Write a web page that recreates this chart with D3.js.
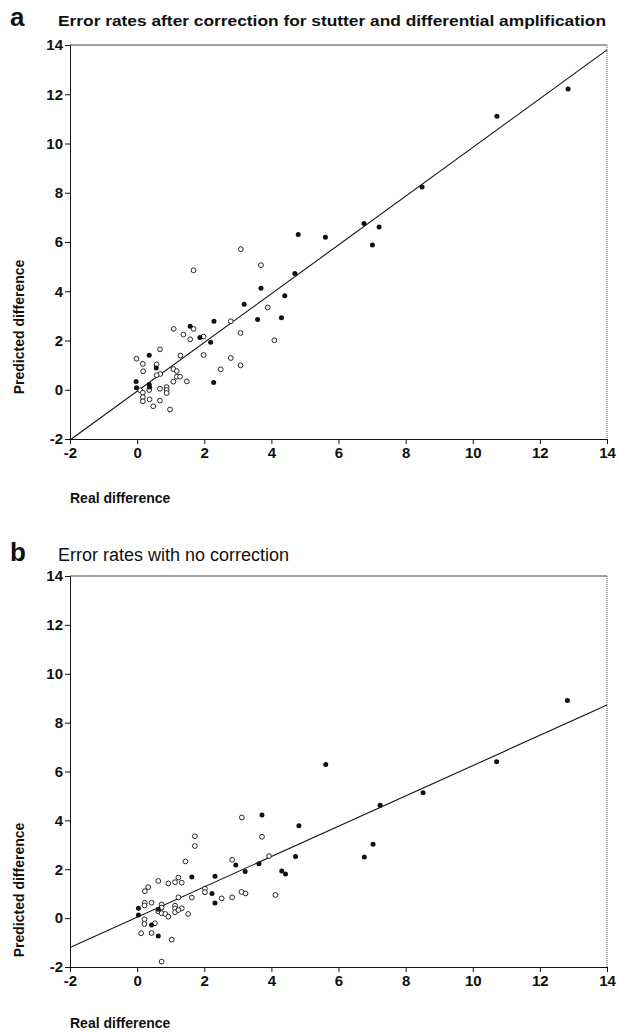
<!DOCTYPE html>
<html>
 <head>
  <meta charset="utf-8" />
  <title>Error rates</title>
  <script src="https://cdn.jsdelivr.net/npm/d3@7"></script>
  <style>
    body { margin: 0; background: #fff; }
    text { font-family: "Liberation Sans", Arial, sans-serif; fill: #111; }
  </style>
 </head>

 <body>
  <script>
    // axis ticks shared by both panels
    var xTicks = [-2, 0, 2, 4, 6, 8, 10, 12, 14],
        yTicks = [-2, 0, 2, 4, 6, 8, 10, 12, 14];

    // panel a : corrected
    var aOpen = [[3.09,5.71],[3.69,5.06],[1.68,4.85],[2.79,2.78],[1.09,2.47],[1.68,2.47],[1.38,2.24],
      [1.58,2.05],[1.98,2.16],[3.08,2.31],[0.68,1.64],[-0.02,1.26],[0.17,1.05],[0.58,1.03],[0.18,0.75],
      [1.29,1.39],[1.08,0.84],[1.18,0.76],[0.69,0.64],[0.58,0.59],[1.18,0.53],[1.28,0.53],[1.08,0.33],
      [1.48,0.34],[1.98,1.41],[2.79,1.29],[2.49,0.83],[3.08,0.99],[0.09,-0.02],[0.17,-0.12],[0.17,-0.30],
      [0.17,-0.47],[0.36,-0.01],[0.68,0.04],[0.88,0.11],[0.88,-0.01],[0.88,-0.13],[0.37,-0.39],
      [0.68,-0.44],[0.48,-0.67],[0.98,-0.80],[3.89,3.34],[4.09,2.01]];
    var aFilled = [[3.69,4.12],[3.19,3.47],[3.59,2.85],[2.29,2.78],[1.58,2.58],[1.87,2.12],[2.19,1.93],
      [0.36,1.40],[0.57,0.88],[2.28,0.29],[-0.03,0.33],[-0.02,0.08],[0.36,0.21],[0.37,0.11],[4.80,6.30],
      [5.61,6.19],[6.76,6.75],[7.21,6.61],[7.01,5.88],[4.70,4.72],[4.40,3.82],[4.30,2.92],[8.49,8.23],
      [10.72,11.11],[12.84,12.21]];
    var aFit = [-0.06, 0.99];   // intercept, slope

    // panel b : no correction
    var bOpen = [[3.12,4.12],[1.72,3.35],[1.72,2.95],[1.44,2.32],[2.83,2.39],[0.33,1.27],[0.63,1.52],
      [0.23,1.10],[0.93,1.42],[1.13,1.47],[1.23,1.66],[1.33,1.45],[2.02,1.21],[2.02,1.06],[3.11,1.07],
      [3.23,1.01],[2.52,0.81],[2.83,0.85],[1.23,0.85],[1.63,0.84],[0.23,0.63],[0.43,0.63],[0.22,0.52],
      [0.73,0.56],[0.73,0.43],[0.63,0.28],[0.73,0.20],[0.84,0.17],[0.93,0.06],[1.13,0.51],[1.13,0.40],
      [1.33,0.40],[1.13,0.24],[1.23,0.33],[1.52,0.17],[0.22,-0.05],[0.22,-0.24],[0.53,-0.21],
      [0.12,-0.62],[0.43,-0.61],[1.03,-0.88],[0.73,-1.78],[3.72,3.33],[3.93,2.54],[4.12,0.95]];
    var bFilled = [[2.94,2.17],[3.63,2.23],[3.22,1.91],[1.63,1.68],[2.32,1.71],[2.23,1.01],[2.32,0.62],
      [0.04,0.40],[0.63,0.36],[0.04,0.13],[0.43,-0.28],[0.63,-0.73],[5.62,6.29],[3.72,4.22],[4.82,3.78],
      [4.72,2.52],[4.31,1.93],[4.42,1.81],[7.24,4.62],[7.03,3.02],[6.77,2.50],[8.52,5.13],[10.71,6.40],
      [12.82,8.91]];
    var bFit = [0.04, 0.62];

    var W = 618, H = 1033;
    var svg = d3.select("body").append("svg")
        .attr("width", W).attr("height", H);

    function panel(opt) {
      var x = d3.scaleLinear().domain([-2, 14]).range([70, 607]),
          y = d3.scaleLinear().domain([-2, 14]).range([opt.bottom, opt.top]);
      var g = svg.append("g");

      // letter + title
      g.append("text").attr("x", 10).attr("y", opt.titleY)
        .style("font-size", "26px").style("font-weight", "bold").text(opt.letter);
      var t = g.append("text").attr("x", opt.titleX).attr("y", opt.titleY)
        .style("font-size", opt.titleSize + "px")
        .style("font-weight", opt.titleBold ? "bold" : "normal")
        .text(opt.title);
      if (opt.titleLen) t.attr("textLength", opt.titleLen).attr("lengthAdjust", "spacingAndGlyphs");

      // frame: top and right are the light side
      g.append("line").attr("x1", x(-2)).attr("x2", x(14)).attr("y1", y(14)).attr("y2", y(14))
        .attr("stroke", "#444").attr("stroke-width", 1);
      g.append("line").attr("x1", x(14)).attr("x2", x(14)).attr("y1", y(14)).attr("y2", y(-2))
        .attr("stroke", "#555").attr("stroke-width", 1).attr("stroke-dasharray", "1,1");

      var xa = g.append("g").attr("transform", "translate(0," + y(-2) + ")")
        .call(d3.axisBottom(x).tickValues(xTicks).tickSize(5).tickPadding(3).tickFormat(d3.format("d")));
      var ya = g.append("g").attr("transform", "translate(" + x(-2) + ",0)")
        .call(d3.axisLeft(y).tickValues(yTicks).tickSize(5).tickPadding(2).tickFormat(d3.format("d")));
      [xa, ya].forEach(function(a) {
        a.select(".domain").attr("stroke", "#111");
        a.selectAll(".tick line").attr("stroke", "#111");
        a.selectAll("text").style("font-size", "15px").style("font-weight", "bold")
          .style("font-family", "'Liberation Sans', Arial, sans-serif").attr("fill", "#111")
          .text(function(d) { return d < 0 ? "-" + Math.abs(d) : d; });
      });

      // fitted line, clipped to the frame
      var fx0 = -2, fy0 = opt.fit[0] + opt.fit[1] * fx0;
      if (fy0 < -2) { fx0 = (-2 - opt.fit[0]) / opt.fit[1]; fy0 = -2; }
      var fx1 = 14, fy1 = opt.fit[0] + opt.fit[1] * fx1;
      g.append("line")
        .attr("x1", x(fx0)).attr("y1", y(fy0)).attr("x2", x(fx1)).attr("y2", y(fy1))
        .attr("stroke", "#111").attr("stroke-width", 1.1);

      g.selectAll("circle.open").data(opt.open).enter().append("circle")
        .attr("class", "open")
        .attr("cx", function(d) { return x(d[0]); })
        .attr("cy", function(d) { return y(d[1]); })
        .attr("r", 2.4).attr("fill", "#fff").attr("stroke", "#111").attr("stroke-width", 0.9);
      g.selectAll("circle.filled").data(opt.filled).enter().append("circle")
        .attr("class", "filled")
        .attr("cx", function(d) { return x(d[0]); })
        .attr("cy", function(d) { return y(d[1]); })
        .attr("r", 2.5).attr("fill", "#111");

      // axis labels
      g.append("text").attr("x", 70).attr("y", opt.xLabY)
        .style("font-size", "14px").style("font-weight", "bold").text("Real difference");
      g.append("text")
        .attr("transform", "translate(24," + opt.yLabC + ") rotate(-90)")
        .attr("text-anchor", "middle")
        .style("font-size", "14px").style("font-weight", "bold").text("Predicted difference");
    }

    panel({ letter: "a", title: "Error rates after correction for stutter and differential amplification",
            titleX: 58, titleY: 26, titleSize: 15, titleBold: true, titleLen: 548,
            top: 45, bottom: 439, open: aOpen, filled: aFilled, fit: aFit,
            xLabY: 503, yLabC: 327 });
    panel({ letter: "b", title: "Error rates with no correction",
            titleX: 58, titleY: 561, titleSize: 18, titleBold: false, titleLen: 0,
            top: 576, bottom: 967, open: bOpen, filled: bFilled, fit: bFit,
            xLabY: 1028, yLabC: 890 });
  </script>
 </body>
</html>
